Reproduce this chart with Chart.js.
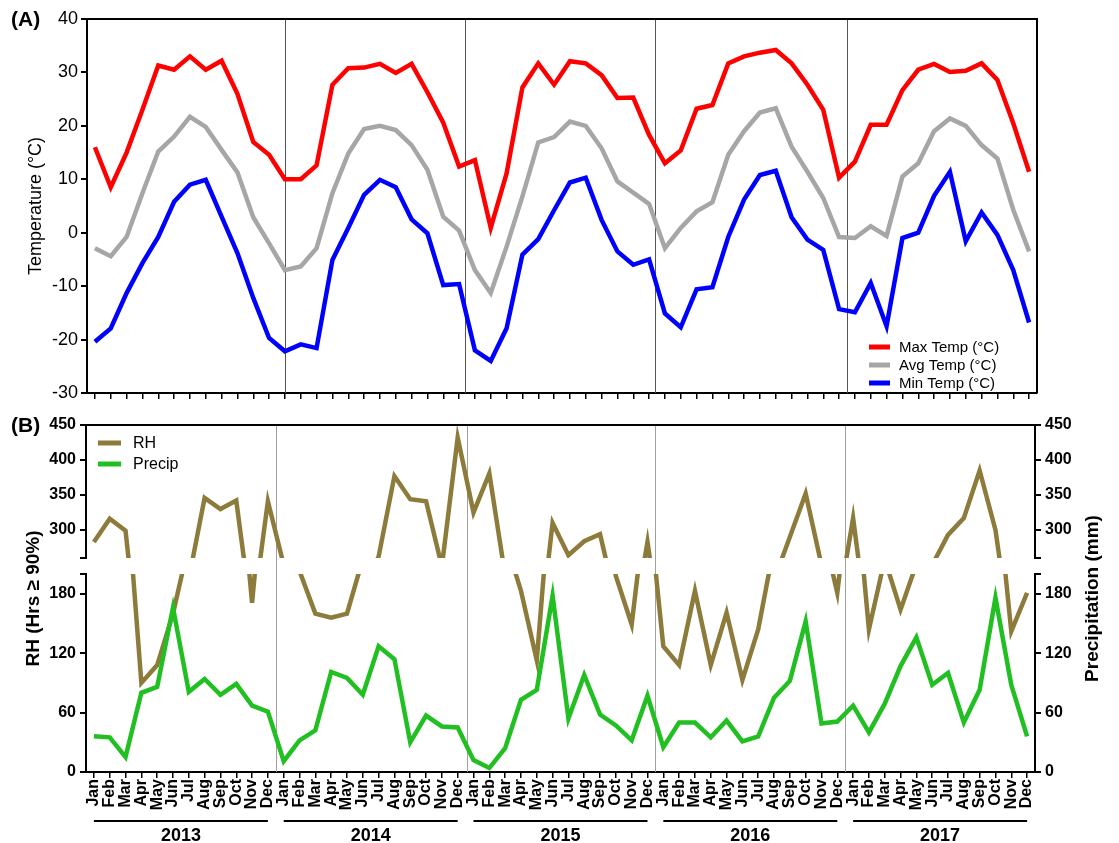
<!DOCTYPE html>
<html>
<head>
<meta charset="utf-8">
<script src="https://cdn.jsdelivr.net/npm/chart.js@4.4.1/dist/chart.umd.min.js"></script>
<style>
  body { margin: 0; background: #fff; }
  #wrap { position: relative; width: 1119px; height: 843px; }
  canvas { position: absolute; left: 0; }
  #chartA { top: 0; }
  #chartB { top: 400px; }
</style>
</head>
<body>
<div id="wrap">
  <canvas id="chartA" width="1119" height="410"></canvas>
  <canvas id="chartB" width="1119" height="443"></canvas>
</div>
<script>
/******************************************* data **/
const months = ["Jan", "Feb", "Mar", "Apr", "May", "Jun", "Jul", "Aug", "Sep", "Oct", "Nov", "Dec"];
const years = ["2013", "2014", "2015", "2016", "2017"];
const labels = years.flatMap(() => months);

// panel A (temperature, °C)
const tempNames = ["Max Temp (°C)", "Avg Temp (°C)", "Min Temp (°C)"];
const maxTemp = [
  16, 8.5, 15, 23, 31.3, 30.5, 33, 30.5, 32.2, 26, 17, 14.6,
  10, 10, 12.6, 27.7, 30.8, 30.9, 31.6, 29.9, 31.6, 26.3, 20.6, 12.4,
  13.6, 0.9, 11.1, 27.2, 31.7, 27.7, 32.1, 31.7, 29.5, 25.2, 25.3, 18.3,
  13, 15.4, 23.2, 23.9, 31.7, 33, 33.7, 34.2, 31.7, 27.7, 23, 10.3,
  13.3, 20.2, 20.2, 26.7, 30.5, 31.6, 30.1, 30.3, 31.7, 28.6, 20.5, 11.4,
];
const avgTemp = [
  -2.9, -4.4, -0.8, 7.4, 15.2, 18, 21.7, 19.8, 15.5, 11.3, 2.9, -2,
  -7, -6.3, -2.9, 7.4, 14.8, 19.4, 20, 19.2, 16.4, 11.8, 3, 0.4,
  -7, -11.3, -2.6, 6.8, 16.9, 17.9, 20.8, 20, 15.8, 9.6, 7.5, 5.4,
  -2.9, 0.9, 4, 5.7, 14.6, 19, 22.5, 23.3, 16.1, 11.4, 6.5, -0.8,
  -1, 1.2, -0.6, 10.5, 13, 19, 21.4, 20, 16.4, 13.9, 4.3, -3.5,
];
const minTemp = [
  -20.4, -17.9, -11.3, -5.7, -0.8, 5.8, 9, 9.9, 3, -3.8, -12.2, -19.7,
  -22.2, -20.9, -21.6, -5.1, 0.9, 7.1, 9.9, 8.5, 2.5, -0.1, -9.8, -9.6,
  -22, -24, -17.9, -4.1, -1.2, 4.2, 9.4, 10.3, 2.4, -3.5, -6, -5,
  -15.1, -17.7, -10.6, -10.2, -0.8, 6.2, 10.8, 11.6, 2.9, -1.3, -3.2, -14.3,
  -14.9, -9.4, -17.5, -1, 0, 6.9, 11.4, -1.6, 3.8, -0.4, -7, -16.8,
];

// panel B (RH hours >= 90%, precipitation mm)
const humidNames = ["RH", "Precip"];
const rh = [
  283, 316, 299, 90, 108, 160, 230, 346, 330, 342, 171, 341,
  250, 203, 160, 156, 160, 215, 262, 377, 344, 341, 248, 432,
  325, 381, 235, 183, 113, 310, 264, 284, 294, 198, 149, 283,
  127, 108, 183, 108, 161, 93, 144, 228, 290, 352, 250, 181,
  317, 144, 215, 164, 210, 250, 293, 317, 385, 300, 142, 181,
];
const precip = [
  36, 35, 15, 80, 86, 166, 81, 94, 78, 89, 67, 61,
  11, 32, 42, 101, 95, 78, 127, 114, 30, 57, 46, 45,
  12, 4, 24, 73, 83, 178, 54, 98, 58, 47, 32, 77,
  25, 50, 50, 35, 52, 31, 36, 75, 92, 152, 49, 51,
  67, 40, 69, 107, 136, 88, 100, 50, 83, 176, 88, 36,
];

// broken axis ticks
const upperTicks = [260, 300, 350, 400, 450];
const lowerTicks = [0, 60, 120, 180, 200];
const tempTicks = { min: -30, max: 40, step: 10 };

/******************************************* styles **/
const FONT = "'Liberation Sans', Arial, Helvetica, sans-serif";
Chart.defaults.font.family = FONT;
Chart.defaults.color = "#000";

const RED = "#ff0000";
const GREY = "#a6a6a6";
const BLUE = "#0000ff";
const BROWN = "#8c7b3b";
const GREEN = "#22bf22";

/******************************************* helpers **/
function vText(ctx, text, x, y, font) {
  ctx.save();
  ctx.translate(x, y);
  ctx.rotate(-Math.PI / 2);
  ctx.font = font;
  ctx.textAlign = "center";
  ctx.textBaseline = "middle";
  ctx.fillText(text, 0, 0);
  ctx.restore();
}

function hLine(ctx, x1, x2, y, w, color) {
  ctx.save();
  ctx.strokeStyle = color;
  ctx.lineWidth = w;
  ctx.beginPath();
  ctx.moveTo(x1, y);
  ctx.lineTo(x2, y);
  ctx.stroke();
  ctx.restore();
}

// panel decorations: separators, clipping per axis segment, titles, legend
const decor = {
  id: "decor",
  beforeDatasetsDraw(chart, args, opts) {
    const { ctx, chartArea } = chart;
    const x = chart.scales.x;
    ctx.save();
    ctx.strokeStyle = opts.sepColor;
    ctx.lineWidth = 1;
    opts.separators.forEach((i) => {
      const px = Math.round(x.getPixelForValue(i)) + 0.5;
      ctx.beginPath();
      ctx.moveTo(px, chartArea.top);
      ctx.lineTo(px, chartArea.bottom);
      ctx.stroke();
    });
    ctx.restore();
  },
  beforeDatasetDraw(chart, args) {
    const ys = args.meta.yScale;
    chart.ctx.save();
    chart.ctx.beginPath();
    chart.ctx.rect(0, ys.top, chart.width, ys.bottom - ys.top);
    chart.ctx.clip();
  },
  afterDatasetDraw(chart) {
    chart.ctx.restore();
  },
  afterDraw(chart, args, opts) {
    const { ctx, chartArea } = chart;

    // box lines
    hLine(ctx, chartArea.left - 1, chartArea.right + 1, chartArea.top, 2, "#000");
    if (opts.rightBorder) {
      ctx.save();
      ctx.strokeStyle = "#000";
      ctx.lineWidth = 2;
      ctx.beginPath();
      ctx.moveTo(chartArea.right, chartArea.top);
      ctx.lineTo(chartArea.right, chartArea.bottom);
      ctx.stroke();
      ctx.restore();
    }

    // panel letter
    ctx.save();
    ctx.font = "bold 21px " + FONT;
    ctx.textBaseline = "middle";
    ctx.fillStyle = "#000";
    ctx.fillText(opts.letter, 11, opts.letterY);
    ctx.restore();

    // axis titles
    const midY = (chartArea.top + chartArea.bottom) / 2;
    opts.titles.forEach((t) => vText(ctx, t.text, t.x, midY, t.font));

    // legend
    const lg = opts.legend;
    ctx.save();
    ctx.font = lg.font;
    ctx.textBaseline = "middle";
    lg.items.forEach((it, k) => {
      const y = lg.y + k * lg.gap;
      hLine(ctx, lg.x, lg.x + lg.len, y, 5, it.color);
      ctx.fillStyle = "#000";
      ctx.fillText(it.label, lg.x + lg.len + lg.pad, y + 1);
    });
    ctx.restore();

    // year brackets under the month labels
    if (opts.yearRow) {
      const x = chart.scales.x;
      ctx.save();
      ctx.font = "bold 18px " + FONT;
      ctx.textAlign = "center";
      ctx.textBaseline = "middle";
      years.forEach((yr, k) => {
        const x1 = x.getPixelForValue(k * 12);
        const x2 = x.getPixelForValue(k * 12 + 11);
        hLine(ctx, x1, x2, opts.yearRow.lineY, 2, "#000");
        ctx.fillText(yr, (x1 + x2) / 2, opts.yearRow.textY);
      });
      ctx.restore();
    }
  },
};

const lineDefaults = {
  fill: false,
  pointRadius: 0,
  borderWidth: 4.5,
  tension: 0,
  borderJoinStyle: "miter",
};

/******************************************* panel A **/
new Chart(document.getElementById("chartA"), {
  type: "line",
  data: {
    labels: labels,
    datasets: [
      { ...lineDefaults, label: tempNames[0], data: maxTemp, borderColor: RED },
      { ...lineDefaults, label: tempNames[1], data: avgTemp, borderColor: GREY },
      { ...lineDefaults, label: tempNames[2], data: minTemp, borderColor: BLUE },
    ],
  },
  options: {
    responsive: false,
    animation: false,
    layout: { padding: { top: 19, right: 82, left: 0, bottom: 0 } },
    plugins: {
      legend: { display: false },
      tooltip: { enabled: false },
      decor: {
        separators: [12, 23.4, 35.4, 47.5],
        sepColor: "#555",
        rightBorder: true,
        letter: "(A)",
        letterY: 20,
        titles: [{ text: "Temperature (°C)", x: 36, font: "18px " + FONT }],
        legend: {
          x: 869, y: 347, gap: 18, len: 21, pad: 9, font: "15px " + FONT,
          items: [
            { label: tempNames[0], color: RED },
            { label: tempNames[1], color: GREY },
            { label: tempNames[2], color: BLUE },
          ],
        },
      },
    },
    scales: {
      x: {
        offset: true,
        ticks: { display: false },
        grid: { drawOnChartArea: false, color: "#000", lineWidth: 1.5, tickLength: 6 },
        border: { color: "#000", width: 2 },
        afterFit: (s) => { s.height = 17; },
      },
      y: {
        min: tempTicks.min,
        max: tempTicks.max,
        ticks: { stepSize: tempTicks.step, font: { size: 18 }, padding: 3 },
        grid: { drawOnChartArea: false, color: "#000", lineWidth: 2, tickLength: 6 },
        border: { color: "#000", width: 2 },
        afterFit: (s) => { s.width = 87; },
      },
    },
  },
  plugins: [decor],
});

/******************************************* panel B **/
function segAxis(position, stack, weight, ticks, hiddenValue, width) {
  return {
    type: "linear",
    position: position,
    stack: stack,
    stackWeight: weight,
    min: ticks[0],
    max: ticks[ticks.length - 1],
    afterBuildTicks: (ax) => { ax.ticks = ticks.map((v) => ({ value: v })); },
    ticks: {
      autoSkip: false,
      callback: (v) => (v === hiddenValue ? "" : v),
      font: { size: 16, weight: "bold" },
      padding: 4,
    },
    grid: { drawOnChartArea: false, color: "#000", lineWidth: 2, tickLength: 6 },
    border: { color: "#000", width: 2 },
    afterFit: (s) => { s.width = width; },
  };
}

function gapAxis(position, stack, width) {
  return {
    type: "linear",
    position: position,
    stack: stack,
    stackWeight: 16,
    min: 0,
    max: 1,
    ticks: { display: false },
    grid: { display: false },
    border: { display: false },
    afterFit: (s) => { s.width = width; },
  };
}

new Chart(document.getElementById("chartB"), {
  type: "line",
  data: {
    labels: labels,
    datasets: [
      { ...lineDefaults, label: humidNames[1], data: precip, borderColor: GREEN, yAxisID: "yLower", order: 0 },
      { ...lineDefaults, label: humidNames[0], data: rh, borderColor: BROWN, yAxisID: "yUpper", order: 1 },
      { ...lineDefaults, label: humidNames[0], data: rh, borderColor: BROWN, yAxisID: "yLower", order: 1 },
    ],
  },
  options: {
    responsive: false,
    animation: false,
    layout: { padding: { top: 25, right: 0, left: 0, bottom: 0 } },
    plugins: {
      legend: { display: false },
      tooltip: { enabled: false },
      decor: {
        separators: [11.5, 23.6, 35.5, 47.5],
        sepColor: "#a0a0a0",
        rightBorder: false,
        letter: "(B)",
        letterY: 26,
        titles: [
          { text: "RH (Hrs ≥ 90%)", x: 34, font: "bold 19px " + FONT },
          { text: "Precipitation (mm)", x: 1093, font: "bold 19px " + FONT },
        ],
        legend: {
          x: 98, y: 43, gap: 21, len: 23, pad: 12, font: "16px " + FONT,
          items: [
            { label: humidNames[0], color: BROWN },
            { label: humidNames[1], color: GREEN },
          ],
        },
        yearRow: { lineY: 421, textY: 436 },
      },
    },
    scales: {
      x: {
        offset: true,
        ticks: {
          autoSkip: false,
          maxRotation: 90,
          minRotation: 90,
          font: { size: 16, weight: "bold" },
          padding: 1,
        },
        grid: { drawOnChartArea: false, color: "#000", lineWidth: 1.5, tickLength: 6 },
        border: { color: "#000", width: 2 },
        afterFit: (s) => { s.height = 71; },
      },
      // left boxes are stacked in reverse order: last defined sits on top
      yLower: segAxis("left", "left", 198, lowerTicks, 200, 86),
      yGap: gapAxis("left", "left", 86),
      yUpper: segAxis("left", "left", 133, upperTicks, 260, 86),
      yUpperR: segAxis("right", "right", 133, upperTicks, 260, 84),
      yGapR: gapAxis("right", "right", 84),
      yLowerR: segAxis("right", "right", 198, lowerTicks, 200, 84),
    },
  },
  plugins: [decor],
});
</script>
</body>
</html>
